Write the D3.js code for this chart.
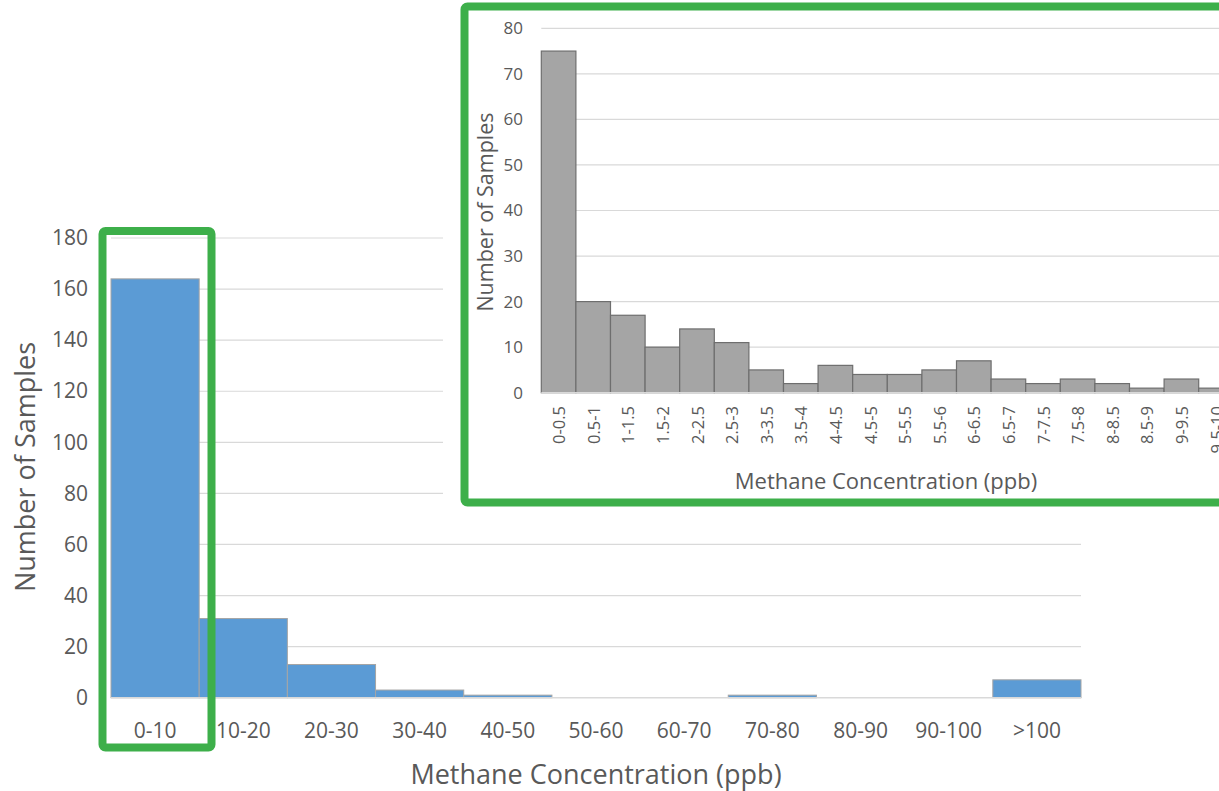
<!DOCTYPE html>
<html><head><meta charset="utf-8">
<script src="https://cdn.jsdelivr.net/npm/d3@7"></script>
<style>
body{margin:0;background:#fff;}
text{font-family:"Open Sans","Segoe UI",sans-serif;fill:#595959;}
</style></head>
<body><svg id="c" width="1219" height="791"></svg>
<script>
const mainCategories = ["0-10","10-20","20-30","30-40","40-50","50-60","60-70","70-80","80-90","90-100",">100"];
const mainValues = [164,31,13,3,1,0,0,1,0,0,7];
const mainTicks = [0,20,40,60,80,100,120,140,160,180];

const insetCategories = ["0-0.5","0.5-1","1-1.5","1.5-2","2-2.5","2.5-3","3-3.5","3.5-4","4-4.5","4.5-5","5-5.5","5.5-6","6-6.5","6.5-7","7-7.5","7.5-8","8-8.5","8.5-9","9-9.5","9.5-10"];
const insetValues = [75,20,17,10,14,11,5,2,6,4,4,5,7,3,2,3,2,1,3,1];
const insetTicks = [0,10,20,30,40,50,60,70,80];

const xTitle = "Methane Concentration (ppb)";
const yTitle = "Number of Samples";

const svg = d3.select("#c");
const green = "#3daf4a";

// ---------- main chart ----------
const mx = d3.scaleBand().domain(mainCategories).range([111,1081]).padding(0);
const my = d3.scaleLinear().domain([0,180]).range([697.7,238]);
const m = svg.append("g");
m.append("g").selectAll("line").data(mainTicks.filter(t=>t>0)).join("line")
  .attr("x1",111).attr("x2",1081).attr("y1",d=>my(d)).attr("y2",d=>my(d))
  .attr("stroke","#d9d9d9").attr("stroke-width",1.2);
m.append("g").selectAll("rect").data(mainValues).join("rect")
  .attr("x",(d,i)=>mx(mainCategories[i])).attr("width",mx.bandwidth())
  .attr("y",d=>my(d)).attr("height",d=>my(0)-my(d))
  .attr("fill","#5b9bd5").attr("stroke","#a5a5a5").attr("stroke-width",1);
m.append("line").attr("x1",111).attr("x2",1081).attr("y1",my(0)).attr("y2",my(0))
  .attr("stroke","#d9d9d9").attr("stroke-width",1.5);
const myAxis = d3.axisLeft(my).tickValues(mainTicks).tickSize(0).tickPadding(0);
m.append("g").attr("transform","translate(88,0)").call(myAxis)
  .call(g=>g.select(".domain").remove())
  .selectAll("text").attr("font-size",21).attr("fill","#595959").attr("font-family","Open Sans");
const mxAxis = d3.axisBottom(mx).tickSize(0).tickPadding(0);
m.append("g").attr("transform","translate(0,723)").call(mxAxis)
  .call(g=>g.select(".domain").remove())
  .selectAll("text").attr("font-size",21).attr("fill","#595959").attr("font-family","Open Sans");
m.append("text").attr("x",596).attr("y",773).attr("text-anchor","middle").attr("dominant-baseline","central")
  .attr("font-size",27).text(xTitle);
m.append("text").attr("transform","translate(24,467) rotate(-90)").attr("text-anchor","middle")
  .attr("dominant-baseline","central").attr("font-size",27).text(yTitle);

// green highlight around first bar
m.append("rect").attr("x",102.5).attr("y",231).attr("width",109).attr("height",516.5)
  .attr("rx",3).attr("fill","none").attr("stroke",green).attr("stroke-width",8);

// ---------- inset ----------
const ins = svg.append("g");
ins.append("rect").attr("x",443).attr("y",0).attr("width",800).attr("height",507).attr("fill","#fff");
const ix = d3.scaleBand().domain(insetCategories).range([541.3,1233.3]).padding(0);
const iy = d3.scaleLinear().domain([0,80]).range([392.7,28.3]);
ins.append("g").selectAll("line").data(insetTicks.filter(t=>t>0)).join("line")
  .attr("x1",541.3).attr("x2",1240).attr("y1",d=>iy(d)).attr("y2",d=>iy(d))
  .attr("stroke","#d9d9d9").attr("stroke-width",1.2);
ins.append("g").selectAll("rect").data(insetValues).join("rect")
  .attr("x",(d,i)=>ix(insetCategories[i])).attr("width",ix.bandwidth())
  .attr("y",d=>iy(d)).attr("height",d=>iy(0)-iy(d))
  .attr("fill","#a5a5a5").attr("stroke","#6e6e6e").attr("stroke-width",1.2);
ins.append("line").attr("x1",541.3).attr("x2",1240).attr("y1",iy(0)).attr("y2",iy(0))
  .attr("stroke","#d9d9d9").attr("stroke-width",1.5);
const iyAxis = d3.axisLeft(iy).tickValues(insetTicks).tickSize(0).tickPadding(0);
ins.append("g").attr("transform","translate(523,0)").call(iyAxis)
  .call(g=>g.select(".domain").remove())
  .selectAll("text").attr("font-size",17).attr("fill","#595959").attr("font-family","Open Sans");
const ixAxis = d3.axisBottom(ix).tickSize(0).tickPadding(0);
ins.append("g").attr("transform","translate(0,406)").call(ixAxis)
  .call(g=>g.select(".domain").remove())
  .selectAll("text").attr("font-size",16.5).attr("fill","#595959").attr("font-family","Open Sans")
  .attr("text-anchor","end").attr("dy",null).attr("dominant-baseline","central")
  .attr("transform","rotate(-90)").attr("x",0).attr("y",0);
ins.append("text").attr("x",886).attr("y",480).attr("text-anchor","middle").attr("dominant-baseline","central")
  .attr("font-size",22).text(xTitle);
ins.append("text").attr("transform","translate(484,212) rotate(-90)").attr("text-anchor","middle")
  .attr("dominant-baseline","central").attr("font-size",21.5).text(yTitle);
ins.append("rect").attr("x",464.5).attr("y",6.5).attr("width",800).attr("height",496)
  .attr("rx",3).attr("fill","none").attr("stroke",green).attr("stroke-width",8);
</script></body></html>
